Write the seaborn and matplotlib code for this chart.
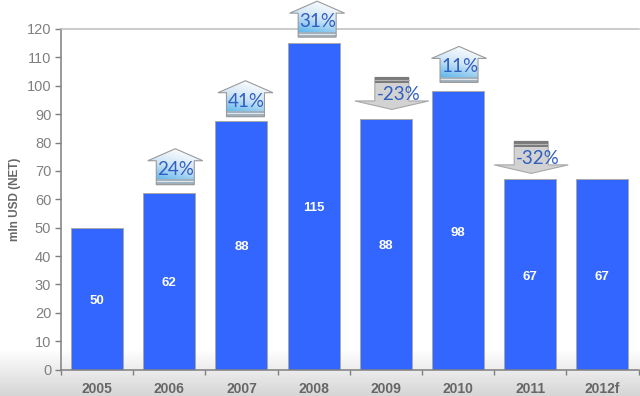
import numpy as np
import pandas as pd
import matplotlib
matplotlib.use("Agg")
import matplotlib.pyplot as plt
from matplotlib.patches import Polygon
from matplotlib.colors import LinearSegmentedColormap
import seaborn as sns

years = ["2005", "2006", "2007", "2008", "2009", "2010", "2011", "2012f"]
values = [50, 62.3, 87.5, 115, 88.3, 98, 67, 67]
value_labels = ["50", "62", "88", "115", "88", "98", "67", "67"]
changes = [None, "24%", "41%", "31%", "-23%", "11%", "-32%", None]
y_ticks = list(range(0, 121, 10))
y_title = "mln USD (NET)"

BAR = "#3366ff"
GREY = "#7f7f7f"
W, H = 640, 396
arrow_dx = [0, 6, 4, 3.5, 6, 1, 1, 0]
arrow_gap = [0, 8, 4.5, 6, 9.5, 9, 6, 0]

sns.set_theme(style="white")
plt.rcParams["font.family"] = ["Liberation Sans", "DejaVu Sans"]

fig = plt.figure(figsize=(W / 100, H / 100), dpi=100, facecolor="white")

# page background: grey fade along the bottom edge
bg = fig.add_axes([0, 0, 1, 1], zorder=0)
fade = np.ones((H, 2))
ramp = np.arange(H) >= 348
fade[ramp, :] = (1 - 0.17 * ((np.arange(H)[ramp] - 348) / (H - 348)))[:, None]
bg.imshow(fade, cmap="gray", vmin=0, vmax=1, aspect="auto", extent=(0, W, H, 0))
bg.axis("off")

ax = fig.add_axes([61 / W, (H - 369.5) / H, 577.5 / W, 340.5 / H], zorder=1)
ax.patch.set_alpha(0)
df = pd.DataFrame({"year": years, "value": values})
sns.barplot(data=df, x="year", y="value", color=BAR, saturation=1, width=0.72,
            edgecolor="#a8a8a8", linewidth=0.7, ax=ax)
ax.set_xlim(-0.5, len(years) - 0.5)
ax.set_ylim(0, 120)
ax.set_yticks(y_ticks)
ax.set_xlabel("")
ax.set_ylabel(y_title, fontsize=8.5, fontweight="bold", color="#666666", labelpad=4)
ax.tick_params(axis="y", length=4, width=1, color=GREY, labelsize=10.5, labelcolor="#808080", pad=3, left=True)
ax.set_xticks(np.arange(len(years) + 1) - 0.5, minor=True)
ax.tick_params(axis="x", which="major", length=0, pad=9, labelsize=10, labelcolor="#666666")
ax.tick_params(axis="x", which="minor", length=3.5, width=1, color=GREY, bottom=True)
for lab in ax.get_xticklabels():
    lab.set_fontweight("bold")
for side in ("left", "bottom"):
    ax.spines[side].set_color(GREY)
    ax.spines[side].set_linewidth(1.1)
ax.spines["right"].set_visible(False)
ax.spines["top"].set_visible(True)
ax.spines["top"].set_color("#bdbdbd")
ax.spines["top"].set_linewidth(1.1)

for i, (v, lab) in enumerate(zip(values, value_labels)):
    ax.annotate(lab, (i, v / 2), xytext=(0, -1.5), textcoords="offset points",
                ha="center", va="center", color="white", fontsize=9.5, fontweight="bold")

# overlay in pixel coordinates for the change arrows
ov = fig.add_axes([0, 0, 1, 1], zorder=2)
ov.set_xlim(0, W)
ov.set_ylim(H, 0)
ov.axis("off")
ov.patch.set_alpha(0)

blue_cmap = LinearSegmentedColormap.from_list("b", ["#ffffff", "#cfe4f6", "#58b4ec"])


def bar_px(i, v):
    x, y = ax.transData.transform((i, v))
    return x, H - y


for i, (v, ch) in enumerate(zip(values, changes)):
    if ch is None:
        continue
    x, top = bar_px(i, v)
    x += arrow_dx[i]
    if not ch.startswith("-"):
        b = top - arrow_gap[i]
        pts = [(x - 19, b), (x - 19, b - 24), (x - 27.5, b - 24), (x, b - 36),
               (x + 27.5, b - 24), (x + 19, b - 24), (x + 19, b)]
        ov.add_patch(Polygon(pts, closed=True, fc="none", ec="#9a9a9a", lw=0.8, zorder=4))
        yy, xx = np.mgrid[0:1:40j, 0:1:40j]
        grad = np.clip(0.9 * yy + 0.35 * (1 - xx) - 0.1, 0, 1)
        im = ov.imshow(grad, cmap=blue_cmap, vmin=0, vmax=1, aspect="auto",
                       extent=(x - 28, x + 28, b, b - 36), zorder=3)
        im.set_clip_path(Polygon(pts, closed=True, transform=ov.transData))
        ov.fill_between([x - 19, x + 19], b - 5.5, b, color="#9fb0bd", lw=0, zorder=3.5)
        ov.plot([x - 19, x + 19], [b - 3.5, b - 3.5], color="#dfe6ea", lw=0.8, zorder=3.6)
        tx, ty = x + 0.5, b - 15.5
    else:
        t = top - arrow_gap[i] - 32
        pts = [(x - 17, t), (x - 17, t + 23.5), (x - 37, t + 23.5), (x, t + 32),
               (x + 37, t + 23.5), (x + 17, t + 23.5), (x + 17, t)]
        ov.add_patch(Polygon(pts, closed=True, fc="#d2d2d2", ec="#a8a8a8", lw=0.8, zorder=3))
        ov.fill_between([x - 17, x + 17], t, t + 5.5, color="#7a7a7a", lw=0, zorder=3.5)
        ov.plot([x - 17, x + 17], [t + 3, t + 3], color="#b5b5b5", lw=0.8, zorder=3.6)
        tx, ty = x + 6.5, t + 17.5
    ov.text(tx, ty, ch, ha="center", va="center", color="#2f5fc0", fontsize=13.5,
            family=["Lato", "DejaVu Sans"], zorder=5)

ov.set_xlim(0, W)
ov.set_ylim(H, 0)
fig.savefig("out.png", dpi=100, facecolor="white")
